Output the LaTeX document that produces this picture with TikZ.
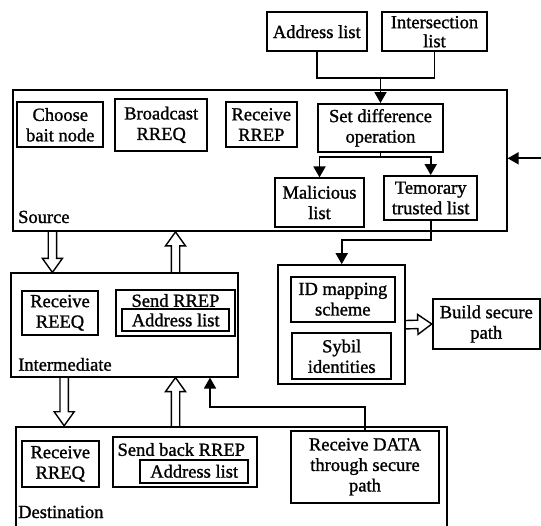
\documentclass[tikz,border=0pt]{standalone}
\usepackage{fontspec}
\setmainfont{Liberation Serif}
\newfontfamily\heavyfont[FakeBold=1.2]{Liberation Serif}
\usetikzlibrary{arrows.meta,calc}

\tikzset{
  box/.style={draw, line width=1.8pt, inner sep=0pt, align=center},
  lbl/.style={anchor=base west, inner sep=0pt},
  wire/.style={line width=1.8pt},
  link/.style={line width=1.8pt, -{Triangle[width=12pt,length=11pt]}},
  hollow/.style={line width=1.4pt, line join=miter},
}

% open double-line arrow between two points
\newcommand\hollowarrow[2]{%
  \draw[hollow] let \p1=(#1), \p2=(#2),
      \n1={veclen(\x2-\x1,\y2-\y1)}, \n2={atan2(\y2-\y1,\x2-\x1)} in
    [shift={(\p1)}, rotate=\n2]
    (0pt,4.2pt) -- (\n1-14pt,4.2pt) -- (\n1-14pt,10pt) -- (\n1,0pt)
    -- (\n1-14pt,-10pt) -- (\n1-14pt,-4.2pt) -- (0pt,-4.2pt);}

\begin{document}
\begin{tikzpicture}[x=1pt, y=-1pt, font=\heavyfont\fontsize{18.5}{20.5}\selectfont]
  \path[use as bounding box, clip] (0,0) rectangle (541,525);

  % outer boxes
  \node[box, minimum width=493.4, minimum height=141] (source) at (260,160.5) {};
  \node[box, minimum width=227.3, minimum height=103.4] (interm) at (124.7,325) {};
  \node[box, minimum width=430.7, minimum height=118.3] (dest) at (231.4,485.8) {};
  \node[box, minimum width=126.7, minimum height=119.3] (idbox) at (341.7,324.7) {};

  % inputs on top
  \node[box, minimum width=99.7, minimum height=38.7] (addr) at (316.8,31.7) {Address list};
  \node[box, minimum width=105, minimum height=38.7,
        font=\heavyfont\fontsize{18.5}{19}\selectfont] (inter) at (434.5,31.7) {Intersection\\list};

  % source
  \node[box, minimum width=86, minimum height=45] (choose) at (60.3,124.8) {Choose\\bait node};
  \node[box, minimum width=92.3, minimum height=51.7] (bcast) at (161.2,124.8) {Broadcast\\RREQ};
  \node[box, minimum width=70.7, minimum height=44.4] (rrep) at (261.3,124.5) {Receive\\RREP};
  \node[box, minimum width=124.4, minimum height=47.7] (setdiff) at (380.5,127.8) {Set difference\\operation};
  \node[box, minimum width=89, minimum height=48.4] (mal) at (319.5,202.5) {Malicious\\list};
  \node[box, minimum width=93.3, minimum height=44] (temp) at (430.7,198) {Temorary\\trusted list};
  \node[lbl] (srclbl) at (18,223) {Source};

  % intermediate
  \node[box, minimum width=76.6, minimum height=44.3] (recvq) at (60,312.8) {Receive\\REEQ};
  \node[box, minimum width=119, minimum height=46] (sendrrep) at (175.5,313) {};
  \node[inner sep=0pt] (sendtxt) at (175.5,300.5) {Send RREP};
  \node[box, minimum width=106.7, minimum height=21.4] (sendaddr) at (175.7,320) {Address list};
  \node[lbl] (intlbl) at (18,370.7) {Intermediate};

  % destination
  \node[box, minimum width=77.3, minimum height=45.7] (recvq2) at (60.3,463.8) {Receive\\RREQ};
  \node[box, minimum width=144, minimum height=50] (sendback) at (184.7,461.7) {};
  \node[inner sep=0pt] (backtxt) at (181.3,449.5) {Send back RREP};
  \node[box, minimum width=108.3, minimum height=22.7] (backaddr) at (194.2,471.3) {Address list};
  \node[box, minimum width=148.6, minimum height=71.7] (recvdata) at (365,466.8) {Receive DATA\\through secure\\path};
  \node[lbl] (dstlbl) at (18,518) {Destination};

  % id mapping
  \node[box, minimum width=104.3, minimum height=45] (idmap) at (342.8,299.2) {ID mapping\\scheme};
  \node[box, minimum width=98.7, minimum height=46] (sybil) at (341.7,356.3) {Sybil\\identities};
  \node[box, minimum width=107.3, minimum height=50] (build) at (486.3,324) {Build secure\\path};

  % filled arrows
  \coordinate (j1) at (setdiff.north |- 0,78);
  \draw[wire] (addr.south) |- (j1) -| (inter.south);
  \draw[link] (j1) -- (setdiff.north);
  \coordinate (j2) at (setdiff.south |- 0,157);
  \draw[wire] (setdiff.south) -- (j2);
  \draw[link] (j2) -| (mal.north);
  \draw[link] (j2) -| (temp.north);
  \coordinate (rin) at (541,158.3);
  \draw[link] (rin) -- (rin -| source.east);
  \coordinate (j3) at (idbox.north |- 0,240);
  \draw[link] (temp.south) |- (j3) -- (idbox.north);
  \coordinate (j4) at (210,407.3);
  \draw[link] (recvdata.north) |- (j4) -- (j4 |- interm.south);

  % open arrows
  \coordinate (s1) at ([xshift=40pt]source.south west);
  \coordinate (s2) at ([xshift=54pt]interm.south west);
  \hollowarrow{s1}{s1 |- interm.north}
  \hollowarrow{sendrrep |- interm.north}{sendrrep |- source.south}
  \hollowarrow{s2}{s2 |- dest.north}
  \hollowarrow{sendrrep |- dest.north}{sendrrep |- interm.south}
  \hollowarrow{idbox.east}{build.west}
\end{tikzpicture}
\end{document}
